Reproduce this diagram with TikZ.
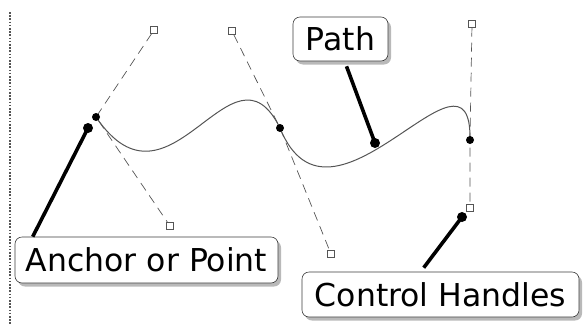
\documentclass[tikz,border=0pt]{standalone}
\usepackage{fontspec}
\setmainfont{DejaVu Sans}
\usetikzlibrary{shadows}
\definecolor{inkgray}{HTML}{555555}
\definecolor{framegray}{HTML}{3c3c3c}

\begin{document}
\begin{tikzpicture}[
    x=1pt, y=-1pt,
    anchorpt/.style={circle, fill=black, inner sep=0pt, minimum size=8pt},
    handle/.style={
        rectangle, draw=inkgray, fill=white, inner sep=0pt,
        minimum size=6.5pt, line width=0.7pt
    },
    tangent/.style={draw=inkgray, dash pattern=on 9pt off 6pt, line width=0.7pt},
    curve/.style={draw=inkgray, line width=1pt},
    callout/.style={
        rectangle, rounded corners=7pt, draw=framegray, fill=white, text=black,
        line width=0.6pt, inner xsep=3pt, minimum height=46pt,
        font=\fontsize{31.5}{36}\selectfont,
        drop shadow={shadow xshift=3pt, shadow yshift=-3.5pt, opacity=0.55}
    },
    pointer/.style={draw=black, line width=3.6pt},
    tipdot/.style={circle, fill=black, inner sep=0pt, minimum size=10pt}
]

\useasboundingbox (0,0) rectangle (583,327);

\draw[inkgray, line width=1.4pt, dash pattern=on 1.6pt off 1.6pt] (10,12) -- (10,325);

\coordinate (p1) at (96,117);
\coordinate (p2) at (280,128);
\coordinate (p3) at (470,140);

\node[handle] (h1a) at (154,30) {};
\node[handle] (h1b) at (170,226) {};
\node[handle] (h2a) at (232,31) {};
\node[handle] (h2b) at (331,254) {};
\node[handle] (h3a) at (472,24) {};
\node[handle] (h3b) at (470,208) {};

\draw[tangent] (h1a) -- (p1) -- (h1b);
\draw[tangent] (h2a) -- (p2) -- (h2b);
\draw[tangent] (h3a) -- (p3) -- (h3b);

\draw[curve] (p1) .. controls (h1b.center) and (h2a.center) .. (p2)
    .. controls (h2b.center) and (h3a.center) .. (p3);

\foreach \p in {1,2,3} {
    \node[anchorpt] (a\p) at (p\p) {};
}

\node[callout, minimum width=263pt] (cA) at (146.5,260) {Anchor or Point};
\node[callout, minimum width=95pt, minimum height=44pt] (cP) at (340.5,39) {Path};
\node[callout, minimum width=277pt, minimum height=45pt] (cC) at (440.5,294.5) {Control Handles};

\node[tipdot] (tA) at (88,128) {};
\node[tipdot] (tP) at (375,143) {};
\node[tipdot] (tC) at (462,217) {};

\draw[pointer] ([xshift=18pt]cA.north west) -- (tA.center);
\draw[pointer] ([xshift=6pt,yshift=-5pt]cP.south) -- (tP.center);
\draw[pointer] ([xshift=122pt,yshift=4pt]cC.north west) -- (tC.center);

\end{tikzpicture}
\end{document}
